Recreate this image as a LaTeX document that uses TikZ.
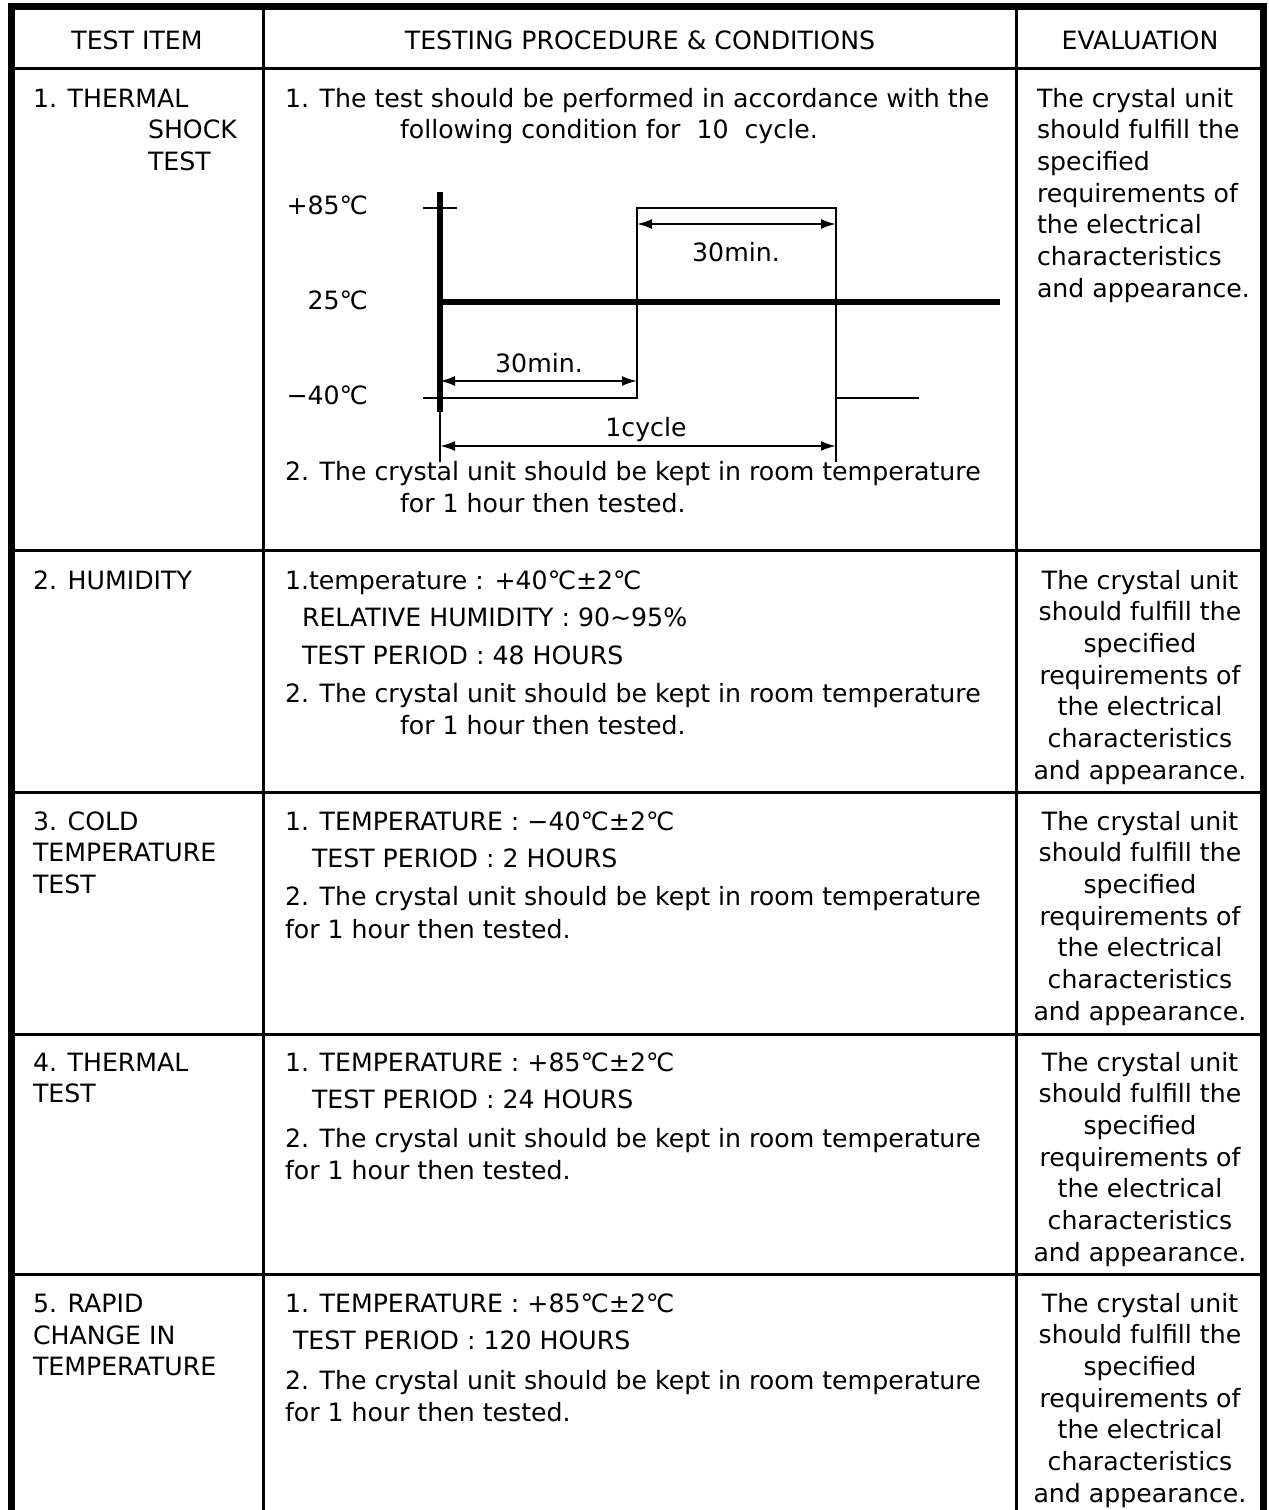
\documentclass[tikz,border=0pt]{standalone}
\usepackage{fontspec}
\setmainfont{DejaVu Sans}
\usetikzlibrary{arrows.meta,positioning,calc}
\newcommand{\gc}{℃}
\tikzstyle{texto} =[inner sep=0pt, outer sep=0pt,
                    font=\fontsize{12.6}{15.85}\selectfont]
\tikzstyle{borde} =[line width=3.5pt, line cap=rect]
\tikzstyle{linea} =[line width=1.5pt]
\tikzstyle{eje}   =[line width=3.25pt]
\tikzstyle{fina}  =[line width=1pt]
\tikzstyle{flecha}=[fina, {Latex[length=7.5pt,width=5pt]}-{Latex[length=7.5pt,width=5pt]}]
\newcommand{\evaluacion}[4]{%
  \foreach \t [count=\k] in {The crystal unit, should fulfill the, specified,
      requirements of, the electrical, characteristics, and appearance.}
    \node[texto, anchor=#4] (ev#1-\k) at (#2, #3+\k*31.7-31.7) {\t};
}

\begin{document}
\begin{tikzpicture}[x=0.5pt,y=-0.5pt]
    \useasboundingbox (0,0) rectangle (1269,1510);

    \draw[borde] (11,1520) -- (11,6.5) -- (1263.5,6.5) -- (1263.5,1520);
    \draw[linea] (263,6.5) -- (263,1520);
    \draw[linea] (1016.5,6.5) -- (1016.5,1520);
    \foreach \y in {68,550.5,792.5,1034,1274}
        \draw[linea] (11,\y) -- (1263.5,\y);

    \node[texto, anchor=base] (h1) at (137,49) {TEST ITEM};
    \node[texto, anchor=base] (h2) at (640,49) {TESTING PROCEDURE \& CONDITIONS};
    \node[texto, anchor=base] (h3) at (1140,49) {EVALUATION};

    % 1
    \node[texto, anchor=base west] (a1) at (33,107) {1. THERMAL};
    \node[texto, anchor=base west] (a2) at (148,138) {SHOCK};
    \node[texto, anchor=base west] (a3) at (148,170) {TEST};
    \node[texto, anchor=base west] (b1) at (285,107) {1. The test should be performed in accordance with the};
    \node[texto, anchor=base west] (b2) at (400,138) {following condition for\ \ 10\ \ cycle.};
    \node[texto, anchor=base west] (b3) at (285,480) {2. The crystal unit should be kept in room temperature};
    \node[texto, anchor=base west] (b4) at (400,512) {for 1 hour then tested.};
    \evaluacion{1}{1037}{107}{base west}

    \coordinate (ejeA) at (440,192);
    \coordinate (ejeB) at (440,412);
    \coordinate (ejeC) at (440,462);
    \coordinate (t85a) at (423,208);
    \coordinate (t85b) at (457,208);
    \coordinate (t40a) at (423,398);
    \coordinate (s1) at (637,398);
    \coordinate (s2) at (637,208);
    \coordinate (s3) at (836,208);
    \coordinate (s4) at (836,462);
    \coordinate (s5) at (836,398);
    \coordinate (s6) at (919,398);
    \coordinate (m25a) at (440,302);
    \coordinate (m25b) at (1000,302);
    \draw[eje] (ejeA) -- (ejeB);
    \draw[eje] (m25a) -- (m25b);
    \draw[fina] (t85a) -- (t85b);
    \draw[fina] (t40a) -- (s1) -- (s2) -- (s3) -- (s4);
    \draw[fina] (s5) -- (s6);
    \draw[fina] (ejeB) -- (ejeC);
    \draw[flecha] (637,224) -- (836,224);
    \draw[flecha] (440,381) -- (637,381);
    \draw[flecha] (440,446) -- (836,446);
    \node[texto, anchor=base east] (l85) at (368,214) {+85\gc};
    \node[texto, anchor=base east] (l25) at (368,309) {25\gc};
    \node[texto, anchor=base east] (l40) at (368,404) {−40\gc};
    \node[texto, anchor=base] (d1) at (736,261) {30min.};
    \node[texto, anchor=base] (d2) at (539,372) {30min.};
    \node[texto, anchor=base] (d3) at (646,436) {1cycle};

    % 2
    \node[texto, anchor=base west] (c1) at (33,589) {2. HUMIDITY};
    \node[texto, anchor=base west] (e1) at (285,589) {1.temperature : +40\gc±2\gc};
    \node[texto, anchor=base west] (e2) at (302,626) {RELATIVE HUMIDITY : 90\textasciitilde95\%};
    \node[texto, anchor=base west] (e3) at (302,664) {TEST PERIOD : 48 HOURS};
    \node[texto, anchor=base west] (e4) at (285,702) {2. The crystal unit should be kept in room temperature};
    \node[texto, anchor=base west] (e5) at (400,734) {for 1 hour then tested.};
    \evaluacion{2}{1140}{589}{base}

    % 3
    \node[texto, anchor=base west] (f1) at (33,830) {3. COLD};
    \node[texto, anchor=base west] (f2) at (33,861) {TEMPERATURE};
    \node[texto, anchor=base west] (f3) at (33,893) {TEST};
    \node[texto, anchor=base west] (g1) at (285,830) {1. TEMPERATURE : −40\gc±2\gc};
    \node[texto, anchor=base west] (g2) at (312,867) {TEST PERIOD : 2 HOURS};
    \node[texto, anchor=base west] (g3) at (285,905) {2. The crystal unit should be kept in room temperature};
    \node[texto, anchor=base west] (g4) at (285,938) {for 1 hour then tested.};
    \evaluacion{3}{1140}{830}{base}

    % 4
    \node[texto, anchor=base west] (i1) at (33,1071) {4. THERMAL};
    \node[texto, anchor=base west] (i2) at (33,1102) {TEST};
    \node[texto, anchor=base west] (j1) at (285,1071) {1. TEMPERATURE : +85\gc±2\gc};
    \node[texto, anchor=base west] (j2) at (312,1108) {TEST PERIOD : 24 HOURS};
    \node[texto, anchor=base west] (j3) at (285,1147) {2. The crystal unit should be kept in room temperature};
    \node[texto, anchor=base west] (j4) at (285,1179) {for 1 hour then tested.};
    \evaluacion{4}{1140}{1071}{base}

    % 5
    \node[texto, anchor=base west] (m1) at (33,1312) {5. RAPID};
    \node[texto, anchor=base west] (m2) at (33,1344) {CHANGE IN};
    \node[texto, anchor=base west] (m3) at (33,1375) {TEMPERATURE};
    \node[texto, anchor=base west] (n1) at (285,1312) {1. TEMPERATURE : +85\gc±2\gc};
    \node[texto, anchor=base west] (n2) at (293,1349) {TEST PERIOD : 120 HOURS};
    \node[texto, anchor=base west] (n3) at (285,1389) {2. The crystal unit should be kept in room temperature};
    \node[texto, anchor=base west] (n4) at (285,1421) {for 1 hour then tested.};
    \evaluacion{5}{1140}{1312}{base}
\end{tikzpicture}
\end{document}
